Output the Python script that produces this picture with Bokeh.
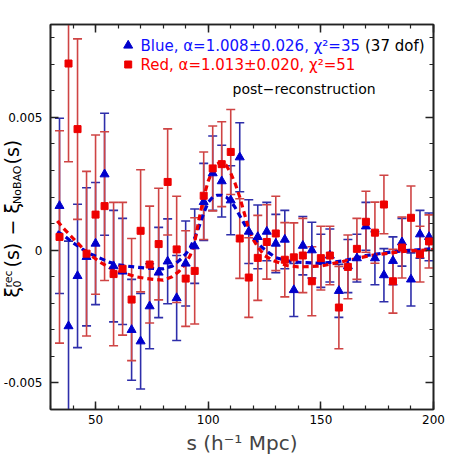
from math import pi
import pandas as pd
from bokeh.plotting import figure
from bokeh.layouts import row
from bokeh.models import (Range1d, LinearAxis, SingleIntervalTicker, Label,
                          ColumnDataSource, CustomJSTickFormatter)
from bokeh.core.properties import value
from bokeh.embed import file_html
from bokeh.resources import INLINE

# ---------------- data ----------------
s_bins = [34, 38, 42, 46, 50, 54, 58, 62, 66, 70, 74, 78, 82, 86, 90, 94, 98, 102,
          106, 110, 114, 118, 122, 126, 130, 134, 138, 142, 146, 150, 154, 158,
          162, 166, 170, 174, 178, 182, 186, 190, 194, 198]

blue_xi = [0.00167, -0.00286, -0.00097, -0.00025, 0.00025, 0.00286, -0.0006, -0.0008,
           -0.0030, -0.00343, -0.00211, -0.00084, -0.00042, -0.0018, -0.0005, 0.00015,
           0.00182, 0.0029, 0.0026, 0.00188, 0.0035, 0.0007, 0.0005, 0.0007, 0.00025,
           0.0004, -0.0015, 0.00017, 0.0, -0.0004, -0.0002, -0.00153, -0.0006, -0.0003,
           0.0009, -0.0003, -0.00094, -0.0004, 0.0003, -0.0011, 0.0006, 0.0005]
blue_err = [0.0033, 0.0032, 0.0027, 0.0026, 0.0023, 0.0023, 0.0021, 0.0020, 0.0019,
            0.0018, 0.0016, 0.0017, 0.0016, 0.0016, 0.0016, 0.0014, 0.00145, 0.0014,
            0.00135, 0.0013, 0.0013, 0.0012, 0.0012, 0.0011, 0.0011, 0.0011, 0.0010,
            0.0011, 0.00105, 0.0010, 0.0010, 0.0010, 0.0010, 0.0009, 0.0009, 0.0010,
            0.0010, 0.0009, 0.0009, 0.0010, 0.0009, 0.0009]

red_xi = [0.0005, 0.00703, 0.00456, -0.00013, 0.00134, 0.00166, -0.0009, -0.0007,
          -0.00186, 0.00073, -0.00054, 0.00023, 0.00257, 0.00003, -0.00107, -0.00078,
          0.00205, 0.00308, 0.00324, 0.0037, 0.00044, -0.00103, -0.00029, 0.00031,
          0.00063, -0.00036, -0.00027, -0.0002, -0.00117, -0.0003, -0.0002, -0.00216,
          -0.00063, 0.00005, 0.00107, 0.00066, 0.00172, -0.00117, 0.0001, 0.00122,
          -0.00015, 0.00033]
red_err = [0.0040, 0.0037, 0.0034, 0.0031, 0.0030, 0.0028, 0.0027, 0.0025, 0.0023,
           0.0023, 0.0022, 0.0021, 0.0020, 0.0020, 0.0018, 0.0020, 0.00165, 0.0016,
           0.0016, 0.0016, 0.0015, 0.0015, 0.0016, 0.0014, 0.0014, 0.0014, 0.0013,
           0.0014, 0.0013, 0.0012, 0.0011, 0.00155, 0.0012, 0.00115, 0.00115, 0.00115,
           0.0011, 0.0012, 0.00115, 0.0012, 0.00105, 0.0010]

model_s_blue = [33, 36, 40, 44, 48, 52, 56, 60, 64, 68, 72, 76, 80, 84, 87, 90, 92, 94,
                96, 98, 100, 102, 104, 106, 108, 110, 112, 114, 116, 118, 120, 122, 124,
                127, 130, 135, 140, 150, 160, 170, 182, 200]
model_blue = [0.0007, 0.00055, 0.00028, 0.00005, -0.00015, -0.0003, -0.00045, -0.00055,
              -0.0006, -0.00064, -0.00067, -0.00069, -0.0007, -0.0006, -0.0004, -0.00015,
              0.0001, 0.00045, 0.0009, 0.0014, 0.0018, 0.0020, 0.00207, 0.00207, 0.0020,
              0.00185, 0.0016, 0.0013, 0.0010, 0.0007, 0.00047, 0.00027, 0.0001, -0.0001,
              -0.00028, -0.0004, -0.00045, -0.0005, -0.0004, -0.0002, -0.00006, 0.00006]

model_s_red = [33, 36, 40, 44, 48, 52, 56, 60, 64, 68, 72, 76, 80, 84, 87, 90, 92, 94,
               96, 98, 100, 102, 104, 106, 108, 110, 112, 114, 116, 118, 120, 122, 125,
               129, 135, 140, 150, 160, 172, 185, 200]
model_red = [0.0011, 0.0008, 0.00045, 0.0001, -0.0002, -0.00045, -0.00065, -0.0008,
             -0.0009, -0.0010, -0.00106, -0.0011, -0.00113, -0.0010, -0.0008, -0.0005,
             -0.0002, 0.0003, 0.0012, 0.0020, 0.0026, 0.0030, 0.00325, 0.00333, 0.0032,
             0.0029, 0.0025, 0.0020, 0.0014, 0.0008, 0.0004, 0.00012, -0.0002, -0.0004,
             -0.00058, -0.00063, -0.0006, -0.00042, -0.0002, -0.00006, 0.00003]

y_tick_values = [-0.005, 0.0, 0.005]
y_tick_labels = ["-0.005", "0", "0.005"]

blue_label = "Blue, α=1.008±0.026, χ²=35"
dof_label = "(37 dof)"
red_label = "Red, α=1.013±0.020, χ²=51"
note_label = "post−reconstruction"
x_label = "s (h⁻¹ Mpc)"

X0, X1 = 30, 200
Y0, Y1 = -0.006, 0.0085

BLUE_BAR = "#2e2eaa"
BLUE_MK = "#0000cc"
BLUE_TXT = "#1010ff"
RED_BAR = "#cf4444"
RED_MK = "#ee0000"
RED_TXT = "#ff0000"
AX = "#222222"
FONT = "DejaVu Sans"

WL = 46          # width of the left strip holding the y tick labels / y label
W, H = 458, 458

# ---------------- main figure ----------------
p = figure(width=W - WL, height=H, output_backend="svg", toolbar_location=None,
           x_range=Range1d(X0, X1), y_range=Range1d(Y0, Y1),
           min_border_left=4, min_border_right=25, min_border_top=24,
           min_border_bottom=49, background_fill_color="white",
           border_fill_color="white")
p.xgrid.visible = False
p.ygrid.visible = False
p.outline_line_color = AX
p.outline_line_width = 1.6


def style_axis(ax, labels=True):
    ax.axis_line_color = AX
    ax.axis_line_width = 1.6
    ax.major_tick_line_color = AX
    ax.minor_tick_line_color = AX
    ax.major_tick_line_width = 1.5
    ax.minor_tick_line_width = 1.2
    ax.major_tick_in = 8
    ax.major_tick_out = 0
    ax.minor_tick_in = 4
    ax.minor_tick_out = 0
    ax.major_label_text_font = FONT
    ax.major_label_text_font_size = "12px"
    ax.major_label_text_color = "black"
    if not labels:
        ax.formatter = CustomJSTickFormatter(code="return ''")
        ax.major_label_standoff = 0


p.xaxis.ticker = SingleIntervalTicker(interval=50, num_minor_ticks=5)
p.yaxis.ticker = SingleIntervalTicker(interval=0.005, num_minor_ticks=5)
style_axis(p.xaxis[0])
style_axis(p.yaxis[0], labels=False)
p.xaxis.major_label_standoff = 5
p.xaxis.axis_label = x_label
p.xaxis.axis_label_text_font = FONT
p.xaxis.axis_label_text_font_size = "20px"
p.xaxis.axis_label_text_font_style = "normal"
p.xaxis.axis_label_standoff = 4

top_ax = LinearAxis(ticker=SingleIntervalTicker(interval=50, num_minor_ticks=5))
right_ax = LinearAxis(ticker=SingleIntervalTicker(interval=0.005, num_minor_ticks=5))
style_axis(top_ax, labels=False)
style_axis(right_ax, labels=False)
p.add_layout(top_ax, "above")
p.add_layout(right_ax, "right")

# ---------------- data sources ----------------
df_b = pd.DataFrame({"s": s_bins, "v": blue_xi, "e": blue_err})
df_b["lo"] = df_b.v - df_b.e
df_b["hi"] = df_b.v + df_b.e
df_r = pd.DataFrame({"s": s_bins, "v": red_xi, "e": red_err})
df_r["lo"] = df_r.v - df_r.e
df_r["hi"] = df_r.v + df_r.e
src_b = ColumnDataSource(df_b)
src_r = ColumnDataSource(df_r)

# error bars
for src, col in ((src_b, BLUE_BAR), (src_r, RED_BAR)):
    p.segment(x0="s", x1="s", y0="lo", y1="hi", source=src, line_color=col,
              line_width=1.6)
    p.scatter(x="s", y="lo", marker="dash", size=9, source=src, line_color=col,
              line_width=1.6)
    p.scatter(x="s", y="hi", marker="dash", size=9, source=src, line_color=col,
              line_width=1.6)

# model curves
p.line(model_s_blue, model_blue, line_color=BLUE_MK, line_width=3.2,
       line_dash="6 4")
p.line(model_s_red, model_red, line_color=RED_MK, line_width=3.2, line_dash="6 4")

# markers
p.scatter(x="s", y="v", source=src_b, marker="triangle", size=9,
          fill_color=BLUE_MK, line_color=BLUE_MK)
p.scatter(x="s", y="v", source=src_r, marker="square", size=7,
          fill_color=RED_MK, line_color=RED_MK)


# ---------------- texts inside the frame ----------------
def dx(px):
    return X0 + (px - 50) * (X1 - X0) / 383.0


def dy(py):
    return Y0 + (409 - py) * (Y1 - Y0) / 385.0


# legend keys
p.scatter([dx(127.7)], [dy(45)], marker="triangle", size=9, fill_color=BLUE_MK,
          line_color=BLUE_MK)
p.scatter([dx(127.7)], [dy(64)], marker="square", size=7, fill_color=RED_MK,
          line_color=RED_MK)


def add_text(txt, px, py, size, color="black"):
    p.add_layout(Label(x=dx(px), y=dy(py), text=txt, text_font=FONT,
                       text_font_size=f"{size}px", text_color=color,
                       text_align="left", text_baseline="middle"))


add_text(blue_label, 140, 45, 15, BLUE_TXT)
add_text(dof_label, 364.5, 45, 15, "black")
add_text(red_label, 140, 64, 15, RED_TXT)
add_text(note_label, 232, 88, 14, "black")

# ---------------- left strip: y tick labels and y axis label ----------------
lf = figure(width=WL, height=H, output_backend="svg", toolbar_location=None,
            x_range=Range1d(0, WL), y_range=p.y_range, x_axis_type=None,
            y_axis_type=None, min_border_left=0, min_border_right=0,
            min_border_top=24, min_border_bottom=49,
            background_fill_color="white", border_fill_color="white")
lf.outline_line_color = None

lf.text(x=[42] * len(y_tick_values), y=y_tick_values, text=y_tick_labels,
        text_font=value(FONT), text_font_size="12px", text_color="black",
        text_align="right", text_baseline="middle")

# pieces of  xi_0^rec(s) - xi_NoBAO(s)  (rotated, reading upwards)
ylab_text = ["ξ", "0", "rec", "(s)", "−", "ξ", "NoBAO", "(s)"]
ylab_px = [11, 16.5, 7.5, 11, 11, 11, 16.5, 11]
ylab_py = [297, 287, 287, 267, 235, 213, 203.5, 164]
ylab_size = ["19px", "11px", "11px", "19px", "19px", "19px", "11px", "19px"]
lf.text(x=ylab_px, y=[dy(v) for v in ylab_py], text=ylab_text,
        text_font=value(FONT), text_font_size=ylab_size, text_color="black",
        angle=pi / 2, text_align="left", text_baseline="middle")

layout = row(lf, p, spacing=0)
open("out.html", "w").write(file_html(layout, INLINE))
